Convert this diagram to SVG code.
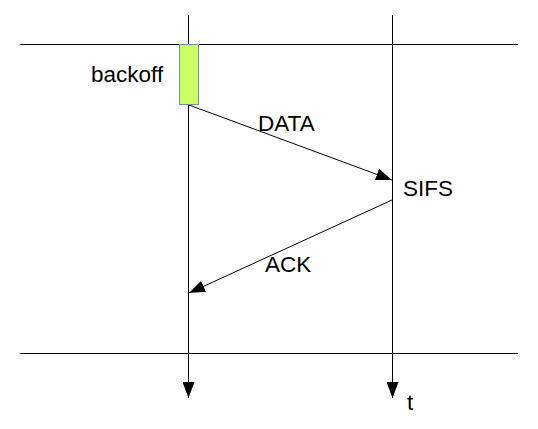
<svg xmlns="http://www.w3.org/2000/svg" width="538" height="429" viewBox="0 0 538 429">
<style>
.ln{stroke:#000;stroke-width:1;fill:none}
.t{font-family:"Liberation Sans",Arial,sans-serif;font-size:22.5px;fill:#000}
</style>
<defs>
<marker id="ah" viewBox="0 0 16 12" refX="16" refY="6" markerWidth="16" markerHeight="12" markerUnits="userSpaceOnUse" orient="auto">
<path d="M0,0 L16,6 L0,12 Z" fill="#000"/>
</marker>
</defs>
<rect width="538" height="429" fill="#fff"/>
<g id="connectors">
<line class="ln" x1="20" y1="44.5" x2="518" y2="44.5"/>
<line class="ln" x1="20" y1="353.5" x2="518" y2="353.5"/>
<line class="ln" x1="188.5" y1="15" x2="188.5" y2="398" marker-end="url(#ah)"/>
<line class="ln" x1="392.5" y1="15" x2="392.5" y2="398" marker-end="url(#ah)"/>
<line class="ln" x1="189" y1="105" x2="392" y2="180" marker-end="url(#ah)"/>
<line class="ln" x1="392" y1="200" x2="189" y2="293" marker-end="url(#ah)"/>
</g>
<g id="backoff">
<rect x="179.5" y="44.5" width="19" height="60" fill="#ccff66" stroke="#6d8bb0" stroke-width="1"/>
<text class="t" x="91" y="82">backoff</text>
</g>
<g id="labels">
<text class="t" x="258" y="131">DATA</text>
<text class="t" x="403" y="196">SIFS</text>
<text class="t" x="265" y="272">ACK</text>
<text class="t" x="407" y="410">t</text>
</g>
</svg>
